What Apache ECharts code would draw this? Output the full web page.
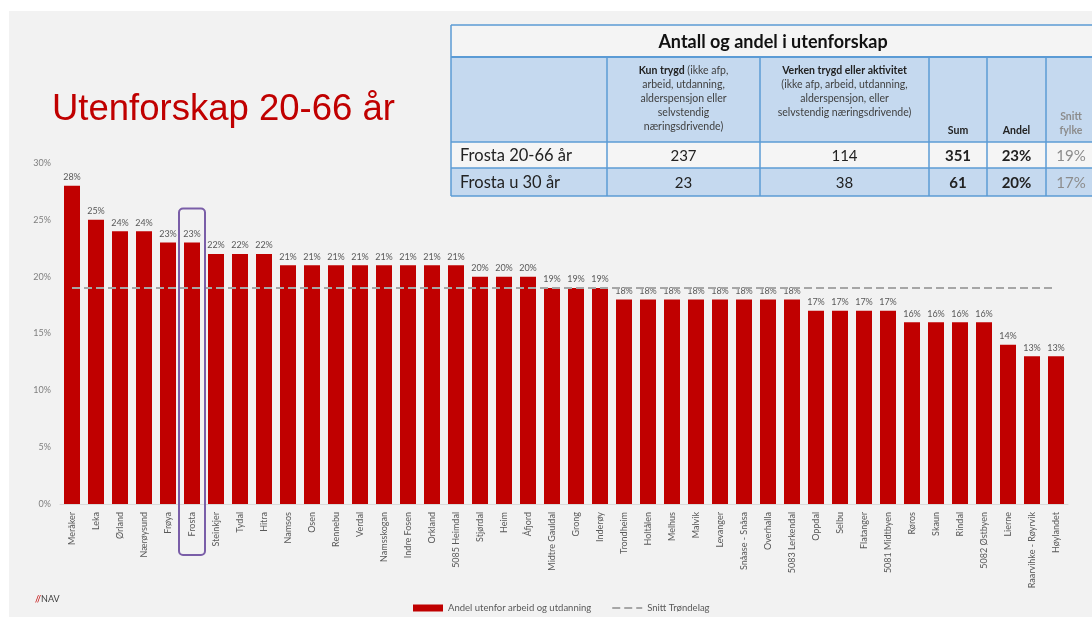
<!DOCTYPE html>
<html>
<head>
<meta charset="utf-8">
<script src="https://cdn.jsdelivr.net/npm/echarts@6/dist/echarts.min.js"></script>
<style>
  html, body { margin: 0; padding: 0; background: #ffffff; }
  #bg { position: absolute; left: 9px; top: 11px; width: 1083px; height: 606px; background: #f2f2f2; }
  #main { position: absolute; left: 0; top: 0; width: 1092px; height: 617px; }
</style>
</head>
<body>
<div id="bg"></div>
<div id="main"></div>
<script>
// kommuner / bydeler
var kommuner = ['Meråker', 'Leka', 'Ørland', 'Nærøysund', 'Frøya', 'Frosta', 'Steinkjer', 'Tydal', 'Hitra',
  'Namsos', 'Osen', 'Rennebu', 'Verdal', 'Namsskogan', 'Indre Fosen', 'Orkland', '5085 Heimdal',
  'Stjørdal', 'Heim', 'Åfjord', 'Midtre Gauldal', 'Grong', 'Inderøy', 'Trondheim', 'Holtålen',
  'Melhus', 'Malvik', 'Levanger', 'Snåase - Snåsa', 'Overhalla', '5083 Lerkendal', 'Oppdal', 'Selbu',
  'Flatanger', '5081 Midtbyen', 'Røros', 'Skaun', 'Rindal', '5082 Østbyen', 'Lierne',
  'Raarvihke - Røyrvik', 'Høylandet'];
// andel utenfor arbeid og utdanning (%)
var andel = [28, 25, 24, 24, 23, 23, 22, 22, 22,
  21, 21, 21, 21, 21, 21, 21, 21,
  20, 20, 20, 19, 19, 19, 18, 18,
  18, 18, 18, 18, 18, 18, 17, 17,
  17, 17, 16, 16, 16, 16, 14,
  13, 13];
var snittTrondelag = 19;
var markert = 'Frosta';

var yTicks = [0, 5, 10, 15, 20, 25, 30];

// tabell
var tabellTittel = 'Antall og andel i utenforskap';
var tabellHode = [
  '',
  '{b|Kun trygd} (ikke afp,\narbeid, utdanning,\nalderspensjon eller\nselvstendig\nnæringsdrivende)',
  '{b|Verken trygd eller aktivitet}\n(ikke afp, arbeid, utdanning,\nalderspensjon, eller\nselvstendig næringsdrivende)',
  '{b|Sum}',
  '{b|Andel}',
  '{g|Snitt\nfylke}'
];
var tabellRader = [
  ['Frosta 20-66 år', '237', '114', '351', '23%', '19%'],
  ['Frosta u 30 år', '23', '38', '61', '20%', '17%']
];

var FONT = 'Lato, "Open Sans", sans-serif';
var chart = echarts.init(document.getElementById('main'));

var colX = [451, 607, 760, 929, 987, 1046, 1100];
var rowY = [25, 57, 142, 168, 196];
var lineCol = '#5b9bd5';

function tabell() {
  var g = [];
  // bakgrunner
  g.push({ type: 'rect', shape: { x: colX[0], y: rowY[0], width: colX[6] - colX[0], height: rowY[1] - rowY[0] }, style: { fill: '#f4f4f4' } });
  g.push({ type: 'rect', shape: { x: colX[0], y: rowY[1], width: colX[6] - colX[0], height: rowY[2] - rowY[1] }, style: { fill: '#c5d9ef' } });
  g.push({ type: 'rect', shape: { x: colX[0], y: rowY[2], width: colX[6] - colX[0], height: rowY[3] - rowY[2] }, style: { fill: '#f5f5f5' } });
  g.push({ type: 'rect', shape: { x: colX[0], y: rowY[3], width: colX[6] - colX[0], height: rowY[4] - rowY[3] }, style: { fill: '#c5d9ef' } });
  // linjer
  rowY.forEach(function (y, i) {
    g.push({ type: 'line', shape: { x1: colX[0], y1: y, x2: colX[6], y2: y }, style: { stroke: lineCol, lineWidth: i === 1 ? 2 : 1.5 } });
  });
  g.push({ type: 'line', shape: { x1: colX[0], y1: rowY[0], x2: colX[0], y2: rowY[4] }, style: { stroke: lineCol, lineWidth: 1.5 } });
  for (var c = 1; c < 6; c++) {
    g.push({ type: 'line', shape: { x1: colX[c], y1: rowY[1], x2: colX[c], y2: rowY[4] }, style: { stroke: lineCol, lineWidth: 1.5 } });
  }
  // tittel
  g.push({ type: 'text', x: 773, y: (rowY[0] + rowY[1]) / 2 + 1, style: { text: tabellTittel, font: 'bold 18px ' + FONT, fill: '#111', align: 'center', verticalAlign: 'middle' } });
  // hode
  for (var h = 1; h < 6; h++) {
    var cx = (colX[h] + colX[h + 1]) / 2;
    if (h === 5) cx = 1071;
    var multi = h <= 2;
    g.push({
      type: 'text', x: cx, y: multi ? 64 : 138,
      style: {
        text: tabellHode[h], fill: '#404040', align: 'center',
        verticalAlign: multi ? 'top' : 'bottom',
        font: '10.5px ' + FONT, lineHeight: 14,
        rich: {
          b: { fontWeight: 'bold', fontSize: 10.5, fill: '#222', fontFamily: FONT, lineHeight: 14 },
          g: { fontWeight: 'bold', fontSize: 10.5, fill: '#8c8c8c', fontFamily: FONT, lineHeight: 14 }
        }
      }
    });
  }
  // rader
  tabellRader.forEach(function (rad, r) {
    var cy = (rowY[r + 2] + rowY[r + 3]) / 2 + 1;
    rad.forEach(function (v, c) {
      var st = { text: v, verticalAlign: 'middle', fill: '#222', font: '15px ' + FONT };
      var x;
      if (c === 0) { x = 460; st.align = 'left'; st.font = '16.5px ' + FONT; }
      else { x = c === 5 ? 1071 : (colX[c] + colX[c + 1]) / 2; st.align = 'center'; }
      if (c === 3 || c === 4) st.font = 'bold 15px ' + FONT;
      if (c === 5) st.fill = '#8c8c8c';
      g.push({ type: 'text', x: x, y: cy, style: st });
    });
  });
  return g;
}

var option = {
  backgroundColor: 'transparent',
  animation: false,
  textStyle: { fontFamily: FONT },
  grid: { left: 60, right: 24, top: 163, bottom: 113, containLabel: false },
  legend: {
    left: 408, top: 598,
    itemWidth: 30, itemHeight: 7, itemGap: 20,
    textStyle: { fontSize: 9.5, color: '#595959', fontFamily: FONT },
    data: [
      { name: 'Andel utenfor arbeid og utdanning', icon: 'rect' },
      { name: 'Snitt Trøndelag', itemStyle: { opacity: 0 } }
    ]
  },
  xAxis: {
    type: 'category',
    data: kommuner,
    axisLine: { lineStyle: { color: '#d9d9d9', width: 1 } },
    axisTick: { show: false },
    axisLabel: { interval: 0, rotate: 90, fontSize: 9, color: '#595959', margin: 8, fontFamily: FONT }
  },
  yAxis: {
    type: 'value',
    min: yTicks[0], max: yTicks[yTicks.length - 1], interval: 5,
    splitLine: { show: false },
    axisLine: { show: false },
    axisTick: { show: false },
    axisLabel: { formatter: '{value}%', fontSize: 9, color: '#7f7f7f', margin: 9, fontFamily: FONT }
  },
  series: [
    {
      name: 'Andel utenfor arbeid og utdanning',
      type: 'bar',
      data: andel,
      barWidth: 16,
      itemStyle: { color: '#c00000' },
      label: { show: true, position: 'top', distance: 4, formatter: '{c}%', fontSize: 9, color: '#595959', fontFamily: FONT },
      z: 2
    },
    {
      name: 'Snitt Trøndelag',
      type: 'line',
      data: kommuner.map(function () { return snittTrondelag; }),
      symbol: 'none',
      lineStyle: { color: '#a6a6a6', width: 2, type: [8, 4] },
      itemStyle: { color: '#a6a6a6' },
      z: 3
    }
  ],
  graphic: []
};

chart.setOption(option);

var g = [];
g.push({ type: 'text', x: 52, y: 110, style: { text: 'Utenforskap 20-66 år', font: '36.5px "Liberation Sans", Arial, sans-serif', fill: '#c00000', verticalAlign: 'middle' } });
g.push({ type: 'text', x: 35, y: 599, style: { text: '{r|//}{n|NAV}', verticalAlign: 'middle', rich: { r: { fill: '#c00000', fontSize: 9, fontFamily: FONT }, n: { fill: '#404040', fontSize: 9, fontFamily: FONT } } } });
g = g.concat(tabell());

var fx = chart.convertToPixel({ xAxisIndex: 0 }, markert);
var fyTop = chart.convertToPixel({ yAxisIndex: 0 }, 26);
var fy0 = chart.convertToPixel({ yAxisIndex: 0 }, 0);
g.push({ type: 'rect', z: 10, shape: { x: fx - 13, y: fyTop, width: 26, height: fy0 + 51 - fyTop, r: 4 }, style: { fill: 'none', stroke: '#7a5ea8', lineWidth: 2 } });

chart.setOption({ graphic: g });
</script>
</body>
</html>
